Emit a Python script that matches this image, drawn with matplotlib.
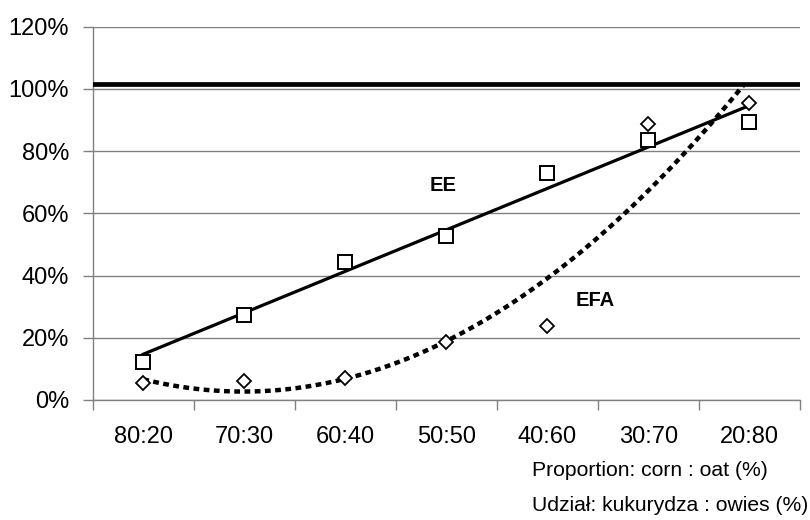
import numpy as np
import matplotlib
matplotlib.use("Agg")
from matplotlib import pyplot as plt

plt.rcParams['font.family'] = ['Liberation Sans', 'DejaVu Sans']

categories = ['80:20', '70:30', '60:40', '50:50', '40:60', '30:70', '20:80']
ee = [12.1, 27.4, 44.4, 52.7, 73.1, 83.6, 89.4]
efa = [5.4, 6.1, 7.0, 18.5, 23.9, 88.7, 95.4]
ref_level = 101.5
yticks = [0, 20, 40, 60, 80, 100, 120]

x = np.arange(len(categories))

fig = plt.figure(figsize=(8.1, 5.2), dpi=100)
ax = fig.add_axes([0.1145, 0.2308, 0.873, 0.718])

grey = '#808080'
ax.set_ylim(0, 120)
ax.set_xlim(-0.5, len(categories) - 0.5)
ax.set_yticks(yticks)
ax.set_yticklabels([f'{v}%' for v in yticks])
ax.yaxis.grid(True, color=grey, lw=1.0)
ax.set_axisbelow(True)

ax.set_xticks(x)
ax.set_xticklabels(categories)
ax.set_xticks(np.arange(len(categories) + 1) - 0.5, minor=True)
ax.tick_params(axis='x', which='major', length=0, pad=19, labelsize=17)
ax.tick_params(axis='x', which='minor', length=7, color=grey, width=1)
ax.tick_params(axis='y', length=7, color=grey, width=1, pad=10, labelsize=17)

for s in ['top', 'right']:
    ax.spines[s].set_visible(False)
for s in ['left', 'bottom']:
    ax.spines[s].set_color(grey)
    ax.spines[s].set_linewidth(1.0)

# reference line
ax.axhline(ref_level, color='black', lw=3.4, zorder=3)

# trend lines (linear for EE, quadratic for EFA)
xs = np.linspace(0, len(categories) - 1, 200)
p_ee = np.polyfit(x, ee, 1)
p_efa = np.polyfit(x, efa, 2)
xq = np.linspace(0, 5.94, 200)
ax.plot(xs, np.polyval(p_ee, xs), color='black', lw=2.3, zorder=4)
ax.plot(xq, np.polyval(p_efa, xq), color='black', lw=3.2,
        linestyle=(0, (1.3, 1.0)), zorder=4)

ax.plot(x, ee, linestyle='none', marker='s', ms=10, mfc='white',
        mec='black', mew=1.4, zorder=5)
ax.plot(x, efa, linestyle='none', marker='D', ms=7, mfc='white',
        mec='black', mew=1.3, zorder=5)

ax.text(2.97, 69, 'EE', ha='center', va='center', fontsize=14.5, fontweight='bold')
ax.text(4.47, 32, 'EFA', ha='center', va='center', fontsize=14.5, fontweight='bold')

fig.text(0.948, 0.096, 'Proportion: corn : oat (%)', fontsize=15.2,
         ha='right', va='center')
fig.text(0.998, 0.027, 'Udział: kukurydza : owies (%)', fontsize=15.2,
         ha='right', va='center')

fig.savefig('out.png', dpi=100)
